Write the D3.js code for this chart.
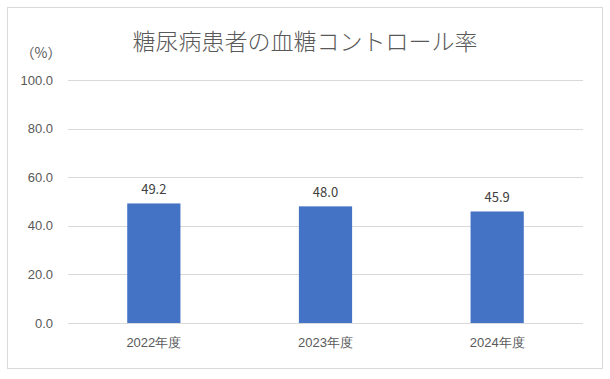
<!DOCTYPE html>
<html>
<head>
<meta charset="utf-8">
<script src="https://cdn.jsdelivr.net/npm/d3@7"></script>
<style>
  html, body { margin: 0; padding: 0; background: #fff; }
  svg { display: block; font-family: "Noto Sans CJK JP", "Noto Sans", sans-serif; }
</style>
</head>
<body>
<script>
const years = ["2022年度", "2023年度", "2024年度"];
const rates = [49.2, 48.0, 45.9];
const yTicks = [0, 20, 40, 60, 80, 100];

const width = 610, height = 379;
const margin = { top: 80, right: 27, bottom: 56, left: 68 };

const svg = d3.select("body").append("svg")
    .attr("width", width)
    .attr("height", height);

// chart frame
svg.append("rect")
    .attr("x", 7.5).attr("y", 7.5)
    .attr("width", 595).attr("height", 361)
    .attr("fill", "#fff")
    .attr("stroke", "#d9d9d9");

const x = d3.scaleBand()
    .domain(years)
    .range([margin.left, width - margin.right])
    .paddingInner(0.69)
    .paddingOuter(0.345);

const y = d3.scaleLinear()
    .domain([0, 100])
    .range([height - margin.bottom, margin.top]);

// gridlines
svg.append("g")
    .selectAll("line")
    .data(yTicks)
    .join("line")
    .attr("x1", margin.left)
    .attr("x2", width - margin.right)
    .attr("y1", d => Math.round(y(d)) + 0.5)
    .attr("y2", d => Math.round(y(d)) + 0.5)
    .attr("stroke", "#d9d9d9");

// y axis labels
const yAxis = d3.axisLeft(y).tickValues(yTicks).tickFormat(d3.format(".1f")).tickSize(0).tickPadding(0);
svg.append("g")
    .attr("transform", `translate(${margin.left - 15},0)`)
    .call(yAxis)
    .call(g => g.select(".domain").remove())
    .selectAll("text")
    .attr("fill", "#595959")
    .style("font-size", "13px");

// bars
svg.append("g")
    .selectAll("rect")
    .data(rates)
    .join("rect")
    .attr("x", (d, i) => x(years[i]))
    .attr("y", d => y(d))
    .attr("width", x.bandwidth())
    .attr("height", d => y(0) - y(d))
    .attr("fill", "#4472c4");

// value labels
svg.append("g")
    .selectAll("text")
    .data(rates)
    .join("text")
    .attr("x", (d, i) => x(years[i]) + x.bandwidth() / 2)
    .attr("y", d => y(d) - 9)
    .attr("text-anchor", "middle")
    .attr("fill", "#404040")
    .style("font-size", "13px")
    .text(d => d.toFixed(1));

// x axis labels
const xAxis = d3.axisBottom(x).tickSize(0).tickPadding(15);
svg.append("g")
    .attr("transform", `translate(0,${height - margin.bottom})`)
    .call(xAxis)
    .call(g => g.select(".domain").remove())
    .selectAll("text")
    .attr("fill", "#595959")
    .style("font-size", "13px");

// unit label
svg.append("text")
    .attr("x", 41)
    .attr("y", 58)
    .attr("text-anchor", "middle")
    .attr("fill", "#595959")
    .style("font-size", "14px")
    .text("（%）");

// title
svg.append("text")
    .attr("x", 305)
    .attr("y", 50)
    .attr("text-anchor", "middle")
    .attr("fill", "#595959")
    .style("font-size", "23px")
    .style("font-weight", "300")
    .text("糖尿病患者の血糖コントロール率");
</script>
</body>
</html>
